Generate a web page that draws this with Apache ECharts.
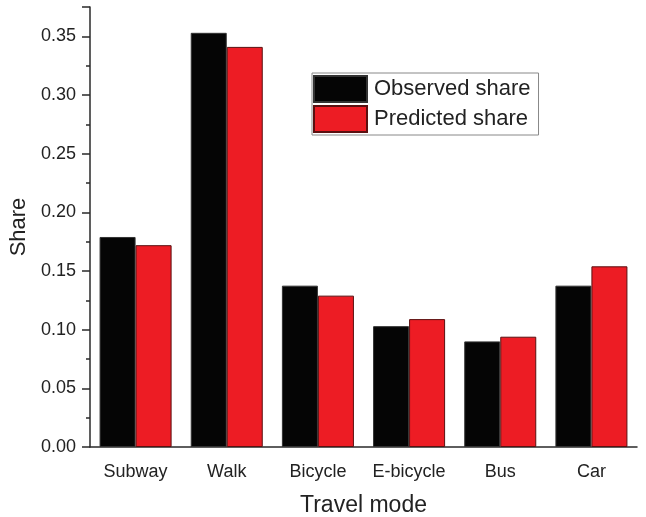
<!DOCTYPE html>
<html>
<head>
<meta charset="utf-8">
<script src="https://cdn.jsdelivr.net/npm/echarts@6/dist/echarts.min.js"></script>
<style>html,body{margin:0;padding:0;background:#fff}#c{width:646px;height:517px}</style>
</head>
<body>
<div id="c"></div>
<script>
const categories = ['Subway', 'Walk', 'Bicycle', 'E-bicycle', 'Bus', 'Car'];
const observed = [0.179, 0.353, 0.1375, 0.103, 0.090, 0.1375];
const predicted = [0.172, 0.341, 0.129, 0.109, 0.094, 0.154];
const seriesNames = ['Observed share', 'Predicted share'];

const FONT = 'Arial, "Liberation Sans", sans-serif';
const TXT = '#222';
const AX = '#2a2a2a';

const chart = echarts.init(document.getElementById('c'));
chart.setOption({
  animation: false,
  backgroundColor: '#fff',
  grid: { left: 90, right: 9, top: 7, bottom: 70, containLabel: false, outerBoundsMode: 'none' },
  legend: {
    data: seriesNames,
    orient: 'vertical',
    left: 312, top: 73,
    itemWidth: 53, itemHeight: 26, itemGap: 2,
    padding: [2, 8, 2, 1],
    borderColor: '#888', borderWidth: 1,
    textStyle: { fontFamily: FONT, fontSize: 22, color: TXT, padding: [0, 0, 0, 2] },
    icon: 'rect'
  },
  xAxis: [{
    type: 'category',
    data: categories,
    position: 'bottom',
    name: 'Travel mode',
    nameLocation: 'middle',
    nameGap: 47,
    nameTextStyle: { fontFamily: FONT, fontSize: 23, color: TXT },
    axisLine: { lineStyle: { color: AX, width: 1.5 } },
    axisTick: { alignWithLabel: true, length: 7, lineStyle: { color: AX, width: 1.5 } },
    axisLabel: { fontFamily: FONT, fontSize: 18, color: TXT, margin: 16, interval: 0 }
  }, {
    type: 'category',
    data: categories,
    position: 'bottom',
    axisLine: { show: false },
    axisTick: { alignWithLabel: false, length: 4, interval: 0, lineStyle: { color: AX, width: 1.5 } },
    axisLabel: { show: false }
  }],
  yAxis: {
    type: 'value',
    min: 0, max: 0.375, interval: 0.05,
    name: 'Share',
    nameLocation: 'middle',
    nameGap: 52,
    nameTextStyle: { fontFamily: FONT, fontSize: 22, color: TXT },
    axisLine: { show: true, lineStyle: { color: AX, width: 1.5 } },
    axisTick: { show: true, length: 8, lineStyle: { color: AX, width: 1.5 } },
    minorTick: { show: true, splitNumber: 2, length: 4, lineStyle: { color: AX, width: 1.5 } },
    splitLine: { show: false },
    axisLabel: {
      fontFamily: FONT, fontSize: 18, color: TXT, margin: 14,
      showMaxLabel: false,
      formatter: v => v.toFixed(2)
    }
  },
  series: [{
    name: seriesNames[0], type: 'bar', data: observed,
    barGap: '0%', barCategoryGap: '21%',
    itemStyle: { color: '#050505', borderColor: '#333', borderWidth: 1 }
  }, {
    name: seriesNames[1], type: 'bar', data: predicted,
    barGap: '0%', barCategoryGap: '21%',
    itemStyle: { color: '#ed1c24', borderColor: '#5a1010', borderWidth: 1 }
  }]
});
</script>
</body>
</html>
